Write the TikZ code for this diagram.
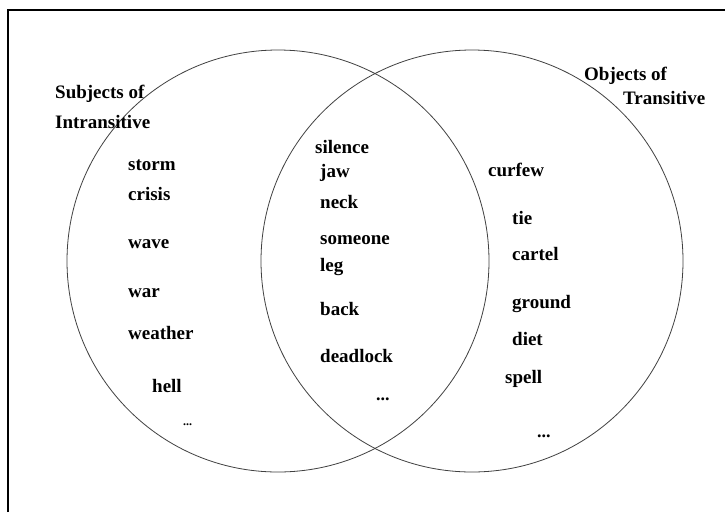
\documentclass[tikz,border=0pt]{standalone}
\usepackage{fontspec}
\setmainfont{Liberation Serif}
\begin{document}
\begin{tikzpicture}[x=1pt,y=-1pt,
  word/.style={anchor=base west,inner sep=0pt,font=\fontsize{19}{22}\selectfont\bfseries},
  dots/.style={anchor=base west,inner sep=0pt,font=\fontsize{18}{22}\selectfont\bfseries},
  smalldots/.style={anchor=base west,inner sep=0pt,font=\fontsize{12}{14}\selectfont\bfseries},
  setcircle/.style={draw=black!75,line width=0.8pt}]
\useasboundingbox (0,0) rectangle (725,512);
\fill[white] (0,0) rectangle (725,512);
\draw[line width=1.2pt] (8,512) -- (8,10) -- (725,10);
\draw[setcircle] (278,261) circle[radius=211];
\draw[setcircle] (472,261) circle[radius=211];
% left set
\node[word] (s1) at (55,98) {Subjects of};
\node[word] (s2) at (55,128) {Intransitive};
\node[word] (a1) at (128,170) {storm};
\node[word] (a2) at (128,200) {crisis};
\node[word] (a3) at (128,248) {wave};
\node[word] (a4) at (128,297) {war};
\node[word] (a5) at (128,339) {weather};
\node[word] (a6) at (152,392) {hell};
\node[smalldots] (a7) at (183,425) {...};
% intersection
\node[word] (b1) at (315,153) {silence};
\node[word] (b2) at (320,177) {jaw};
\node[word] (b3) at (320,208) {neck};
\node[word] (b4) at (320,244) {someone};
\node[word] (b5) at (320,271) {leg};
\node[word] (b6) at (320,315) {back};
\node[word] (b7) at (320,362) {deadlock};
\node[dots] (b8) at (376,400) {...};
% right set
\node[word] (o1) at (584,80) {Objects of};
\node[word] (o2) at (623,104) {Transitive};
\node[word] (c1) at (488,176) {curfew};
\node[word] (c2) at (512,224) {tie};
\node[word] (c3) at (512,260) {cartel};
\node[word] (c4) at (512,308) {ground};
\node[word] (c5) at (512,345) {diet};
\node[word] (c6) at (505,383) {spell};
\node[dots] (c7) at (537,437) {...};
\end{tikzpicture}
\end{document}
